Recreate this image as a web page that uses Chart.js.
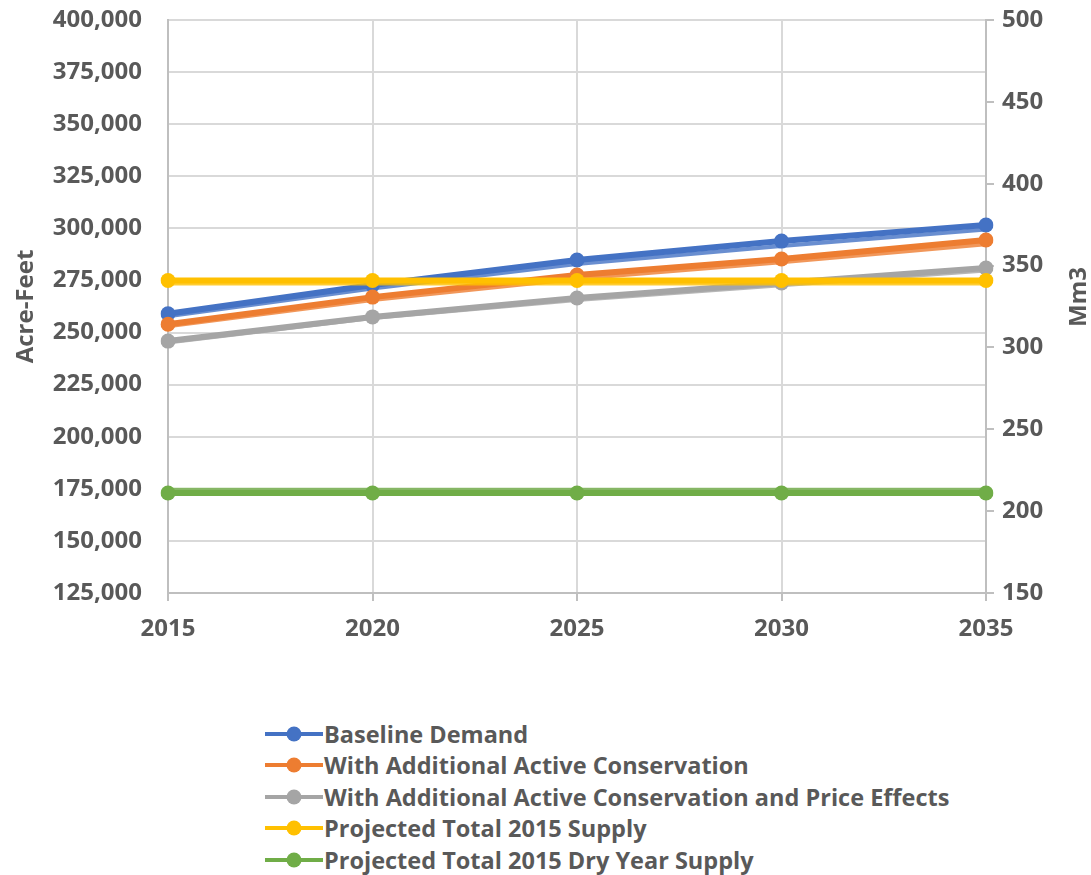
<!DOCTYPE html>
<html>
<head>
<meta charset="utf-8">
<script src="https://cdn.jsdelivr.net/npm/chart.js@4.4.1/dist/chart.umd.min.js"></script>
<style>
  html, body { margin: 0; padding: 0; background: #fff; }
  #wrap { position: relative; width: 1091px; height: 875px; }
  #chart { position: absolute; left: 0; top: 0; }
  #legend { position: absolute; left: 265px; top: 718px; font-family: "Open Sans", sans-serif;
            font-weight: 700; font-size: 23.5px; color: #595959; }
  .row { height: 31.5px; display: flex; align-items: center; white-space: nowrap; }
  .row svg { margin-right: 1px; }
</style>
</head>
<body>
<div id="wrap">
  <canvas id="chart" width="1091" height="680"></canvas>
  <div id="legend"></div>
</div>
<script>
// Années
const years = ['2015', '2020', '2025', '2030', '2035'];

// Séries en acre-feet (axe gauche)
const baselineAF   = [259000, 272800, 284800, 293900, 301600];
const activeAF     = [254000, 267000, 277600, 285300, 294400];
const priceAF      = [245900, 257500, 266600, 273800, 281000];
const supplyAF     = [275000, 275000, 275000, 275000, 275000];
const drySupplyAF  = [173000, 173000, 173000, 173000, 173000];

// Mêmes séries en Mm3 (axe droit)
const baselineMm3  = [319, 336, 351, 362, 372];
const activeMm3    = [313, 329, 342, 352, 363];
const priceMm3     = [303, 318, 329, 338, 347];
const supplyMm3    = [339, 339, 339, 339, 339];
const drySupplyMm3 = [213, 213, 213, 213, 213];

const names  = ['Baseline Demand', 'With Additional Active Conservation',
                'With Additional Active Conservation and Price Effects',
                'Projected Total 2015 Supply', 'Projected Total 2015 Dry Year Supply'];
const colors = ['#4472C4', '#ED7D31', '#A5A5A5', '#FFC000', '#70AD47'];

const afSeries  = [baselineAF, activeAF, priceAF, supplyAF, drySupplyAF];
const mm3Series = [baselineMm3, activeMm3, priceMm3, supplyMm3, drySupplyMm3];

const FONT = '"Open Sans", sans-serif';
const TXT  = '#595959';
const tickFont = { family: FONT, size: 24, weight: 'bold' };

// Ordre de dessin : jaune et vert au-dessus
const drawOrder = [4, 3, 2, 1, 0];

const datasets = [];
afSeries.forEach((data, i) => {
  datasets.push({
    label: names[i], data, yAxisID: 'y',
    borderColor: colors[i], backgroundColor: colors[i],
    borderWidth: 6, pointRadius: 7.5, pointHoverRadius: 7.5,
    pointBorderWidth: 0, tension: 0, order: drawOrder[i] * 2,
  });
});
mm3Series.forEach((data, i) => {
  datasets.push({
    label: names[i] + ' (Mm3)', data, yAxisID: 'y1',
    borderColor: colors[i] + 'CC', backgroundColor: colors[i],
    borderWidth: 4, pointRadius: 0, tension: 0, order: drawOrder[i] * 2 + 1,
  });
});

// Titre de l'axe droit, lu de bas en haut comme à gauche
const rightTitle = {
  id: 'rightTitle',
  afterDraw(chart) {
    const ctx = chart.ctx;
    ctx.save();
    ctx.translate(1079, 297);
    ctx.rotate(-Math.PI / 2);
    ctx.fillStyle = TXT;
    ctx.font = `bold 24px ${FONT}`;
    ctx.textAlign = 'center';
    ctx.textBaseline = 'middle';
    ctx.fillText('Mm3', 0, 0);
    ctx.restore();
  },
};

// Largeur fixe des axes verticaux, sans marge haute/basse ajoutée
const fixV = w => s => { s.width = w; s.paddingTop = 0; s.paddingBottom = 0; };

new Chart(document.getElementById('chart'), {
  type: 'line',
  data: { labels: years, datasets },
  plugins: [rightTitle],
  options: {
    responsive: false,
    animation: false,
    layout: { padding: { top: 20, right: 0, bottom: 0, left: 0 } },
    plugins: { legend: { display: false }, tooltip: { enabled: false } },
    scales: {
      x: {
        offset: false,
        grid: { color: '#D9D9D9', lineWidth: 2, tickLength: 8, tickColor: '#BFBFBF' },
        border: { color: '#BFBFBF', width: 2 },
        ticks: { color: TXT, font: tickFont, padding: 14, maxRotation: 0 },
        afterFit: s => { s.height = 87; s.paddingLeft = 0; s.paddingRight = 0; },
      },
      y: {
        position: 'left', min: 125000, max: 400000,
        grid: { color: '#D9D9D9', lineWidth: 2, drawTicks: false },
        border: { color: '#BFBFBF', width: 2 },
        ticks: {
          stepSize: 25000, color: TXT, padding: 26, font: tickFont,
          callback: v => v.toLocaleString('en-US'),
        },
        title: { display: true, text: 'Acre-Feet', color: TXT,
                 font: tickFont, padding: { top: 12, bottom: 0 } },
        afterFit: fixV(168),
      },
      y1: {
        position: 'right', min: 150, max: 500,
        grid: { drawOnChartArea: false, tickLength: 8, color: '#BFBFBF', lineWidth: 2 },
        border: { color: '#BFBFBF', width: 2 },
        ticks: { stepSize: 50, color: TXT, padding: 8, font: tickFont },
        afterFit: fixV(105),
      },
    },
  },
});

// Légende HTML verticale
const legend = document.getElementById('legend');
names.forEach((n, i) => {
  const row = document.createElement('div');
  row.className = 'row';
  row.innerHTML = `<svg width="58" height="20"><line x1="0" y1="10" x2="58" y2="10" stroke="${colors[i]}" stroke-width="4"/>` +
    `<circle cx="29" cy="10" r="7.5" fill="${colors[i]}"/></svg><span>${n}</span>`;
  legend.appendChild(row);
});
</script>
</body>
</html>
